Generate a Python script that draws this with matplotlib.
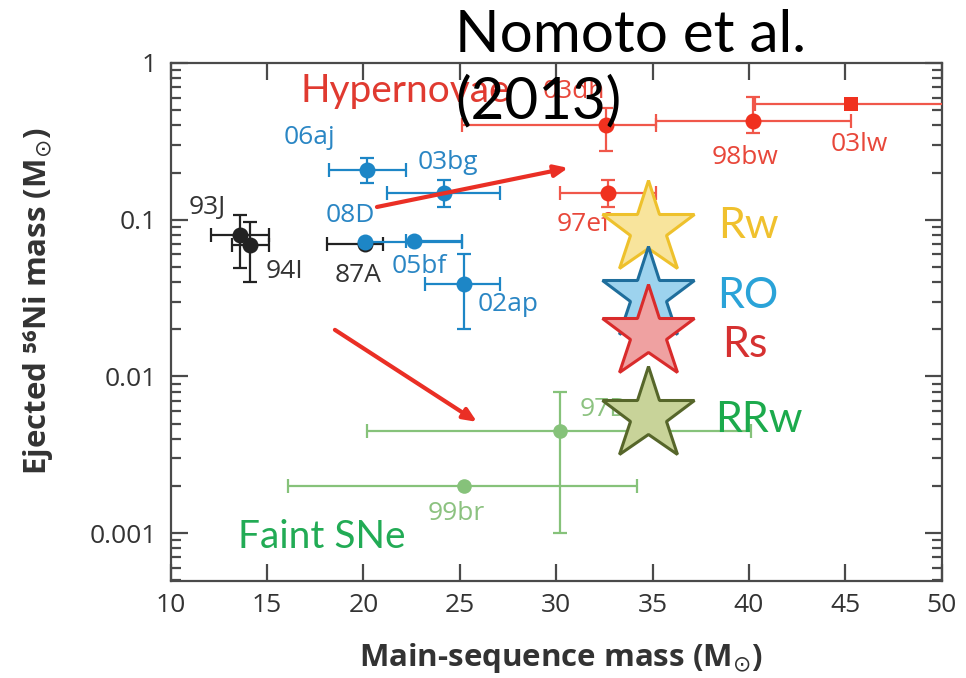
import matplotlib
matplotlib.use("Agg")
import matplotlib.pyplot as plt
from matplotlib.ticker import LogLocator, NullFormatter, FixedLocator, FixedFormatter

# ---- data -------------------------------------------------------------
# normal core-collapse SNe (black)
normal_names = ["93J", "94I", "87A"]
normal_mass = [13.6, 14.1, 20.1]
normal_mass_lo = [12.1, 13.2, 18.1]
normal_mass_hi = [15.1, 15.1, 21.0]
normal_ni = [0.080, 0.069, 0.070]
normal_ni_lo = [0.049, 0.040, 0.070]
normal_ni_hi = [0.107, 0.097, 0.070]

# intermediate SNe (blue)
mid_names = ["06aj", "03bg", "08D", "05bf", "02ap"]
mid_mass = [20.2, 24.2, 20.1, 22.6, 25.2]
mid_mass_lo = [18.2, 21.2, 20.1, 22.2, 23.2]
mid_mass_hi = [22.2, 27.1, 25.1, 25.1, 27.1]
mid_ni = [0.207, 0.148, 0.072, 0.073, 0.039]
mid_ni_lo = [0.171, 0.120, 0.072, 0.073, 0.020]
mid_ni_hi = [0.248, 0.180, 0.072, 0.073, 0.060]

# hypernovae (red)
hn_names = ["03dh", "97ef", "98bw", "03lw"]
hn_mass = [32.6, 32.7, 40.2, 45.3]
hn_mass_lo = [25.1, 30.2, 35.2, 40.3]
hn_mass_hi = [35.2, 35.2, 45.3, 56.0]
hn_ni = [0.40, 0.148, 0.426, 0.55]
hn_ni_lo = [0.275, 0.120, 0.357, 0.52]
hn_ni_hi = [0.516, 0.180, 0.607, 0.58]

# faint SNe (green)
faint_names = ["97D", "99br"]
faint_mass = [30.2, 25.2]
faint_mass_lo = [20.2, 16.1]
faint_mass_hi = [40.1, 34.2]
faint_ni = [0.0045, 0.0020]
faint_ni_lo = [0.0010, 0.0020]
faint_ni_hi = [0.0080, 0.0020]

# model stars
model_names = ["Rw", "RO", "Rs", "RRw"]
model_mass = [34.75, 34.75, 34.75, 34.75]
model_ni = [0.0873, 0.033, 0.0189, 0.00567]

x_ticks = [10, 15, 20, 25, 30, 35, 40, 45, 50]
y_ticks = [0.001, 0.01, 0.1, 1]
y_tick_labels = ["0.001", "0.01", "0.1", "1"]

# ---- styling ------------------------------------------------------------
W, H = 966, 678
LABEL_FONT = ["Open Sans", "DejaVu Sans"]
ANNOT_FONT = ["Lato", "DejaVu Sans"]

def fx(px):
    return px / W

def fy(py):
    return 1 - py / H

fig = plt.figure(figsize=(W / 100, H / 100), dpi=100)
ax = fig.add_axes([fx(170.7), fy(581), fx(941.7) - fx(170.7), fy(63) - fy(581)])
ax.set_yscale("log")
ax.set_xlim(10, 50)
ax.set_ylim(4.94e-4, 1)


def draw_group(mass, lo, hi, ni, nlo, nhi, pcolor, ecolor, marker="o", ms=11.5, z=3):
    xerr = [[m - l for m, l in zip(mass, lo)], [h - m for m, h in zip(mass, hi)]]
    yerr = [[n - l for n, l in zip(ni, nlo)], [h - n for n, h in zip(ni, nhi)]]
    ax.errorbar(mass, ni, xerr=xerr, yerr=yerr, fmt="none", ecolor=ecolor,
                elinewidth=1.6, capsize=5, capthick=1.6, zorder=z)
    ax.plot(mass, ni, linestyle="none", marker=marker, ms=ms, color=pcolor,
            markeredgewidth=0, zorder=z + 0.1)


BLACK = "#222222"
BLUE = "#1d86c6"
RED = "#f0311f"
RED_BAR = "#f0574a"
GREEN = "#86c27a"

draw_group(normal_mass, normal_mass_lo, normal_mass_hi, normal_ni, normal_ni_lo,
           normal_ni_hi, BLACK, BLACK)
draw_group(mid_mass, mid_mass_lo, mid_mass_hi, mid_ni, mid_ni_lo, mid_ni_hi, BLUE, BLUE)
draw_group(hn_mass[:3], hn_mass_lo[:3], hn_mass_hi[:3], hn_ni[:3], hn_ni_lo[:3],
           hn_ni_hi[:3], RED, RED_BAR)
draw_group(hn_mass[3:], hn_mass_lo[3:], hn_mass_hi[3:], hn_ni[3:], hn_ni_lo[3:],
           hn_ni_hi[3:], RED, RED_BAR, marker="s", ms=10.5)
draw_group(faint_mass, faint_mass_lo, faint_mass_hi, faint_ni, faint_ni_lo,
           faint_ni_hi, GREEN, GREEN, ms=10.5)

# SN name labels
label_pos = {
    "93J": (11.9, 0.120), "94I": (15.9, 0.047), "87A": (19.7, 0.044),
    "06aj": (17.2, 0.337), "03bg": (24.4, 0.230), "08D": (19.3, 0.107),
    "05bf": (22.9, 0.050), "02ap": (27.5, 0.0286),
    "03dh": (30.9, 0.653), "98bw": (39.8, 0.251), "03lw": (45.7, 0.300),
    "97ef": (31.4, 0.0925),
    "97D": (32.5, 0.0061), "99br": (24.8, 0.00134),
}
group_colors = [(normal_names, "#333333"), (mid_names, "#2a86c4"),
                (hn_names, "#e8473a"), (faint_names, "#8cc280")]
for names, col in group_colors:
    for nm in names:
        x, y = label_pos[nm]
        ax.text(x, y, nm, color=col, fontsize=19, family=LABEL_FONT,
                ha="center", va="center", zorder=4)

# arrows
arrow_kw = dict(arrowstyle="-|>,head_length=0.8,head_width=0.35", color="#ea2f25",
                lw=3, shrinkA=0, shrinkB=0)
ax.annotate("", xy=(30.62, 0.214), xytext=(20.70, 0.1205), arrowprops=arrow_kw, zorder=5)
ax.annotate("", xy=(25.89, 0.00512), xytext=(18.52, 0.0198), arrowprops=arrow_kw, zorder=5)

# model stars
star_fill = ["#f8e49c", "#9dd3ee", "#efa1a1", "#c8d399"]
star_edge = ["#eec12c", "#1f6e9c", "#d92b2b", "#56662a"]
for m, n, fc, ec in zip(model_mass, model_ni, star_fill, star_edge):
    ax.plot([m], [n], marker="*", ms=70, markerfacecolor=fc, markeredgecolor=ec,
            markeredgewidth=2.2, linestyle="none", zorder=6)

# axes styling
for sp in ax.spines.values():
    sp.set_color("#4a4a4a")
    sp.set_linewidth(1.6)
ax.xaxis.set_major_locator(FixedLocator(x_ticks))
ax.set_xticklabels([str(t) for t in x_ticks])
ax.yaxis.set_major_locator(FixedLocator(y_ticks))
ax.yaxis.set_major_formatter(FixedFormatter(y_tick_labels))
ax.yaxis.set_minor_locator(LogLocator(base=10, subs=range(2, 10), numticks=20))
ax.yaxis.set_minor_formatter(NullFormatter())
ax.tick_params(axis="both", which="major", direction="in", length=12, width=1.6,
               color="#4a4a4a", top=True, right=True, labelsize=19,
               labelcolor="#333333")
ax.tick_params(axis="y", which="minor", direction="in", length=7, width=1.6,
               color="#4a4a4a", right=True)
ax.tick_params(axis="x", pad=9)
ax.tick_params(axis="y", pad=10)
for lab in ax.get_xticklabels() + ax.get_yticklabels():
    lab.set_family(LABEL_FONT)

# axis titles
fig.text(fx(561), fy(658), "Main-sequence mass (M$_{\\odot}$)", ha="center", va="center",
         fontsize=22.5, fontweight="bold", color="#333333", family=LABEL_FONT)
fig.text(fx(38), fy(301), "Ejected \u2075\u2076Ni mass (M$_{\\odot}$)", ha="center",
         va="center", rotation=90, fontsize=22.5, fontweight="bold", color="#333333",
         family=LABEL_FONT)

# annotations
fig.text(fx(300), fy(102), "Hypernovae", color="#e03a30", fontsize=28,
         family=ANNOT_FONT, fontweight="normal", ha="left", va="baseline", zorder=7)
fig.text(fx(238), fy(548), "Faint SNe", color="#22ab55", fontsize=28,
         family=ANNOT_FONT, fontweight="normal", ha="left", va="baseline", zorder=7)
fig.text(fx(455), fy(52), "Nomoto et al.", color="black", fontsize=42,
         family=ANNOT_FONT, fontweight="normal", ha="left", va="baseline", zorder=8)
fig.text(fx(455), fy(118), "(2013)", color="black", fontsize=42,
         family=ANNOT_FONT, fontweight="normal", ha="left", va="baseline", zorder=8)

model_label_xy = [(718, 238), (717, 308), (722, 357), (715, 432)]
model_label_colors = ["#f0c12e", "#2aa3d8", "#d63131", "#1caa4c"]
for nm, (px, py), col in zip(model_names, model_label_xy, model_label_colors):
    fig.text(fx(px), fy(py), nm, color=col, fontsize=31, family=ANNOT_FONT,
             fontweight="normal", ha="left", va="baseline", zorder=8)

fig.savefig("out.png", dpi=100)
